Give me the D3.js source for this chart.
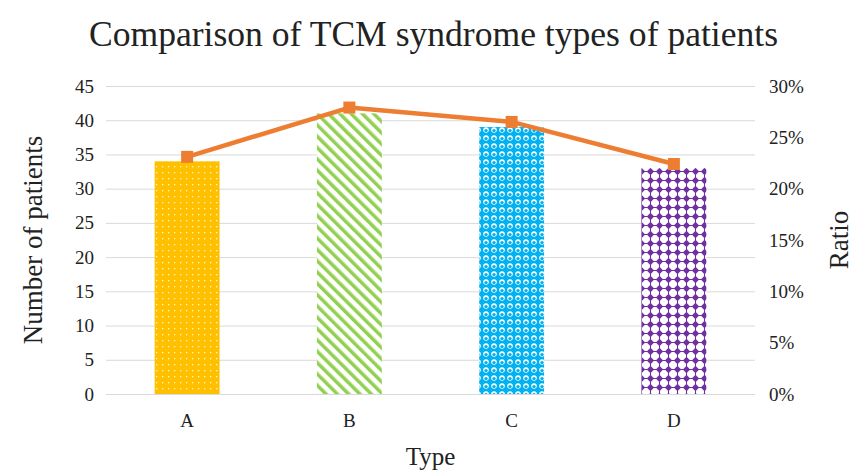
<!DOCTYPE html>
<html>
<head>
<meta charset="utf-8">
<script src="https://cdn.jsdelivr.net/npm/d3@7"></script>
<style>
  body { margin: 0; background: #fff; }
</style>
</head>
<body>
<svg width="855" height="475"></svg>
<script>
// data
var types = ["A", "B", "C", "D"];
var patients = [34, 41, 39, 33];
var ratios = [0.231, 0.279, 0.265, 0.224];
var leftTicks = [0, 5, 10, 15, 20, 25, 30, 35, 40, 45];
var rightTicks = [0, 0.05, 0.10, 0.15, 0.20, 0.25, 0.30];
var patternIds = ["pA", "pB", "pC", "pD"];

var svg = d3.select("svg"),
    margin = {left: 106, right: 100, top: 86, bottom: 81},
    width = 855,
    height = 475,
    innerW = width - margin.left - margin.right,
    innerH = height - margin.top - margin.bottom,
    serif = "Liberation Serif";

// patterns for the bars
var defs = svg.append("defs");

// A: orange with small white dots
var pA = defs.append("pattern").attr("id", "pA").attr("patternUnits", "userSpaceOnUse")
    .attr("width", 6).attr("height", 6);
pA.append("rect").attr("width", 6).attr("height", 6).attr("fill", "#ffc000");
pA.append("rect").attr("x", 2).attr("y", 2).attr("width", 1.3).attr("height", 1.3).attr("fill", "#fff5d0");

// B: green diagonal stripes going down to the right
var pB = defs.append("pattern").attr("id", "pB").attr("patternUnits", "userSpaceOnUse")
    .attr("width", 8).attr("height", 8).attr("patternTransform", "rotate(-45)");
pB.append("rect").attr("width", 8).attr("height", 8).attr("fill", "#fff");
pB.append("rect").attr("x", 0).attr("width", 3.5).attr("height", 8).attr("fill", "#92d050");

// C: blue with white circles
var pC = defs.append("pattern").attr("id", "pC").attr("patternUnits", "userSpaceOnUse")
    .attr("width", 8).attr("height", 8);
pC.append("rect").attr("width", 8).attr("height", 8).attr("fill", "#00b0f0");
pC.append("circle").attr("cx", 4).attr("cy", 4).attr("r", 2.8).attr("fill", "#fff");
pC.append("circle").attr("cx", 4).attr("cy", 4.6).attr("r", 1.7).attr("fill", "#00b0f0");

// D: purple diamonds on white
var pD = defs.append("pattern").attr("id", "pD").attr("patternUnits", "userSpaceOnUse")
    .attr("width", 9).attr("height", 9);
pD.append("rect").attr("width", 9).attr("height", 9).attr("fill", "#fff");
pD.append("path").attr("d", "M4.5,0.8 L8.2,4.5 L4.5,8.2 L0.8,4.5 Z").attr("fill", "#7030a0");
pD.append("rect").attr("x", 4).attr("y", 0).attr("width", 1).attr("height", 9).attr("fill", "#7030a0");
pD.append("rect").attr("x", 0).attr("y", 4).attr("width", 9).attr("height", 1).attr("fill", "#7030a0");

var g = svg.append("g").attr("transform", "translate(" + margin.left + "," + margin.top + ")");

var x = d3.scaleBand().domain(types).range([0, innerW]).paddingInner(0.6).paddingOuter(0.3);
var y = d3.scaleLinear().domain([0, 45]).range([innerH, 0]);
var y2 = d3.scaleLinear().domain([0, 0.30]).range([innerH, 0]);

// gridlines
g.append("g").selectAll("line").data(leftTicks).enter().append("line")
    .attr("x1", 0).attr("x2", innerW)
    .attr("y1", function(d) { return y(d) + 0.5; })
    .attr("y2", function(d) { return y(d) + 0.5; })
    .attr("stroke", "#d9d9d9").attr("stroke-width", 1);

// left axis
var yAxis = g.append("g").call(d3.axisLeft(y).tickValues(leftTicks).tickSize(0).tickPadding(12));
yAxis.select(".domain").remove();
yAxis.selectAll("text").style("font-family", serif).style("font-size", "19px").style("fill", "#222");

// right axis
var yAxis2 = g.append("g").attr("transform", "translate(" + innerW + ",0)")
    .call(d3.axisRight(y2).tickValues(rightTicks).tickSize(0).tickPadding(14).tickFormat(d3.format(".0%")));
yAxis2.select(".domain").remove();
yAxis2.selectAll("text").style("font-family", serif).style("font-size", "19px").style("fill", "#222");

// x axis
var xAxis = g.append("g").attr("transform", "translate(0," + innerH + ")")
    .call(d3.axisBottom(x).tickSize(0).tickPadding(20));
xAxis.select(".domain").remove();
xAxis.selectAll("text").style("font-family", serif).style("font-size", "19px").style("fill", "#222");

// bars
g.append("g").selectAll("rect").data(patients).enter().append("rect")
    .attr("x", function(d, i) { return x(types[i]); })
    .attr("y", function(d) { return y(d); })
    .attr("width", x.bandwidth())
    .attr("height", function(d) { return innerH - y(d); })
    .attr("fill", function(d, i) { return "url(#" + patternIds[i] + ")"; });

// ratio line
var line = d3.line()
    .x(function(d, i) { return x(types[i]) + x.bandwidth() / 2; })
    .y(function(d) { return y2(d); });
g.append("path").datum(ratios)
    .attr("d", line)
    .attr("fill", "none")
    .attr("stroke", "#ed7d31")
    .attr("stroke-width", 4.5)
    .attr("stroke-linejoin", "round");

g.append("g").selectAll("rect").data(ratios).enter().append("rect")
    .attr("x", function(d, i) { return x(types[i]) + x.bandwidth() / 2 - 6; })
    .attr("y", function(d) { return y2(d) - 6; })
    .attr("width", 12).attr("height", 12)
    .attr("fill", "#ed7d31");

// titles
function label(sel, size) {
  return sel.style("font-family", serif).style("font-size", size + "px").style("fill", "#222")
      .attr("text-anchor", "middle");
}

label(svg.append("text"), 35.6).attr("x", width / 2 + 6).attr("y", 46)
    .text("Comparison of TCM syndrome types of patients");

label(svg.append("text"), 25).attr("x", margin.left + innerW / 2).attr("y", 465)
    .text("Type");

label(svg.append("text"), 27)
    .attr("transform", "translate(42," + (margin.top + innerH / 2) + ") rotate(-90)")
    .text("Number of patients");

label(svg.append("text"), 27)
    .attr("transform", "translate(848," + (margin.top + innerH / 2) + ") rotate(-90)")
    .text("Ratio");
</script>
</body>
</html>
